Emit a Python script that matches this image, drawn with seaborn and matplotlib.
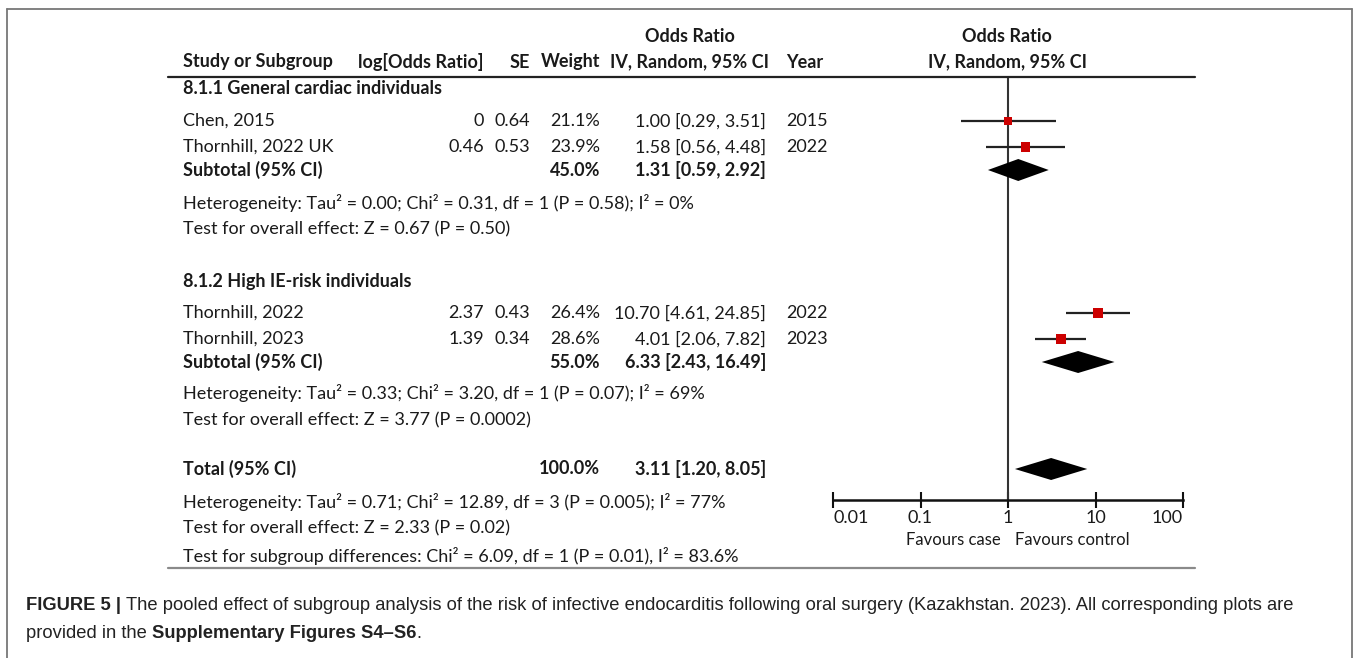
import matplotlib
matplotlib.use("Agg")
import matplotlib.pyplot as plt
from matplotlib.lines import Line2D
from matplotlib import font_manager
import numpy as np
import pandas as pd
import seaborn as sns

# ---- study-level data ----
studies = ["Chen, 2015", "Thornhill, 2022 UK", "Thornhill, 2022", "Thornhill, 2023"]
log_or = [0, 0.46, 2.37, 1.39]
se = [0.64, 0.53, 0.43, 0.34]
weight = [21.1, 23.9, 26.4, 28.6]
or_est = [1.00, 1.58, 10.70, 4.01]
ci_lo = [0.29, 0.56, 4.61, 2.06]
ci_hi = [3.51, 4.48, 24.85, 7.82]
years = [2015, 2022, 2022, 2023]

# ---- pooled estimates (two subgroups, then overall) ----
pooled_names = ["Subtotal (95% CI)", "Subtotal (95% CI)", "Total (95% CI)"]
pooled_weight = [45.0, 55.0, 100.0]
pooled_est = [1.31, 6.33, 3.11]
pooled_lo = [0.59, 2.43, 1.20]
pooled_hi = [2.92, 16.49, 8.05]

group_titles = ["8.1.1 General cardiac individuals", "8.1.2 High IE-risk individuals"]
stats_lines = [
    ["Heterogeneity: Tau\u00b2 = 0.00; Chi\u00b2 = 0.31, df = 1 (P = 0.58); I\u00b2 = 0%",
     "Test for overall effect: Z = 0.67 (P = 0.50)"],
    ["Heterogeneity: Tau\u00b2 = 0.33; Chi\u00b2 = 3.20, df = 1 (P = 0.07); I\u00b2 = 69%",
     "Test for overall effect: Z = 3.77 (P = 0.0002)"],
    ["Heterogeneity: Tau\u00b2 = 0.71; Chi\u00b2 = 12.89, df = 3 (P = 0.005); I\u00b2 = 77%",
     "Test for overall effect: Z = 2.33 (P = 0.02)",
     "Test for subgroup differences: Chi\u00b2 = 6.09, df = 1 (P = 0.01), I\u00b2 = 83.6%"],
]
tick_values = [0.01, 0.1, 1, 10, 100]
tick_labels = ["0.01", "0.1", "1", "10", "100"]
favours = ["Favours case", "Favours control"]

# ---- layout (pixel rows, measured from the top of the canvas) ----
W, H = 1355, 658
study_rows = [121, 147, 313, 339]
pooled_rows = [170, 362, 469]
title_rows = [89, 281]
stats_rows = [[203, 229], [393, 420], [502, 528, 556]]
header_line_y, axis_y = 77, 500

sns.set_theme(style="white")
names = {f.name for f in font_manager.fontManager.ttflist}
table_font = "Lato" if "Lato" in names else "DejaVu Sans"
caption_font = "Liberation Sans" if "Liberation Sans" in names else "DejaVu Sans"
plt.rcParams["font.family"] = [table_font, "DejaVu Sans"]

fig = plt.figure(figsize=(W / 100, H / 100), dpi=100)
fig.patch.set_facecolor("white")

FS = 13.0  # table font size (pt)
TXT = "#1a1a1a"


def fx(x):
    return x / W


def fy(y):
    return 1 - y / H


def put(x, y, s, ha="left", bold=False, size=FS, family=None, color=TXT):
    return fig.text(fx(x), fy(y), s, ha=ha, va="center", fontsize=size,
                    fontweight="bold" if bold else "normal",
                    family=family or [table_font, "DejaVu Sans"], color=color)


# column anchors
X_NAME, X_LOG, X_SE, X_W, X_CI, X_YEAR = 183, 484, 530, 600, 766, 786
X_CI_HEAD, X_PLOT_HEAD = 690, 1007

# headers
put(X_CI_HEAD, 37, "Odds Ratio", ha="center", bold=True)
put(X_PLOT_HEAD, 37, "Odds Ratio", ha="center", bold=True)
put(X_NAME, 62, "Study or Subgroup", bold=True)
put(X_LOG, 62, "log[Odds Ratio]", ha="right", bold=True)
put(X_SE, 62, "SE", ha="right", bold=True)
put(X_W, 62, "Weight", ha="right", bold=True)
put(X_CI_HEAD, 62, "IV, Random, 95% CI", ha="center", bold=True)
put(X_YEAR, 62, "Year", bold=True)
put(X_PLOT_HEAD, 62, "IV, Random, 95% CI", ha="center", bold=True)

fig.add_artist(Line2D([fx(168), fx(1195)], [fy(header_line_y)] * 2,
                      transform=fig.transFigure, color="#222222", lw=1.6))
fig.add_artist(Line2D([fx(168), fx(1195)], [fy(568)] * 2,
                      transform=fig.transFigure, color="#8a8a8a", lw=1.6))

# subgroup titles
for t, y in zip(group_titles, title_rows):
    put(X_NAME, y, t, bold=True)

# study rows
for i, y in enumerate(study_rows):
    put(X_NAME, y, studies[i])
    put(X_LOG, y, f"{log_or[i]:g}", ha="right")
    put(X_SE, y, f"{se[i]:.2f}", ha="right")
    put(X_W, y, f"{weight[i]:.1f}%", ha="right")
    put(X_CI, y, f"{or_est[i]:.2f} [{ci_lo[i]:.2f}, {ci_hi[i]:.2f}]", ha="right")
    put(X_YEAR, y, str(years[i]))

# pooled rows
for i, y in enumerate(pooled_rows):
    put(X_NAME, y, pooled_names[i], bold=True)
    put(X_W, y, f"{pooled_weight[i]:.1f}%", ha="right", bold=True)
    put(X_CI, y, f"{pooled_est[i]:.2f} [{pooled_lo[i]:.2f}, {pooled_hi[i]:.2f}]",
        ha="right", bold=True)

for lines, rows in zip(stats_lines, stats_rows):
    for s, y in zip(lines, rows):
        put(X_NAME, y, s)

# ---- forest plot panel ----
ax = fig.add_axes([fx(833), fy(axis_y), (1183 - 833) / W, (axis_y - header_line_y) / H])
ax.set_xscale("log")
ax.set_xlim(tick_values[0], tick_values[-1])
ax.set_ylim(axis_y, header_line_y)
ax.patch.set_alpha(0)

ax.axvline(1, color="#333333", lw=1.5, zorder=1)
ax.hlines(study_rows, ci_lo, ci_hi, color="#222222", lw=1.6, zorder=2)

df = pd.DataFrame({"or": or_est, "row": study_rows, "w": weight})
sns.scatterplot(data=df, x="or", y="row", size="w", sizes=(40, 56), marker="s",
                color="#cc0000", edgecolor="none", linewidth=0, legend=False,
                ax=ax, zorder=3)

half_h = 11
for est, lo, hi, y in zip(pooled_est, pooled_lo, pooled_hi, pooled_rows):
    ax.fill([lo, est, hi, est], [y, y - half_h, y, y + half_h],
            color="black", lw=0, zorder=3, clip_on=False)

for side in ["top", "left", "right"]:
    ax.spines[side].set_visible(False)
ax.spines["bottom"].set_color("#111111")
ax.spines["bottom"].set_linewidth(1.8)
ax.set_yticks([])
ax.set_xticks(tick_values)
ax.set_xticklabels(tick_labels)
ax.minorticks_off()
ax.tick_params(axis="x", which="major", bottom=True, direction="inout", length=11,
               width=1.5, color="#111111", pad=2, labelsize=FS, labelcolor=TXT)
labels = ax.get_xticklabels()
labels[0].set_horizontalalignment("left")
labels[-1].set_horizontalalignment("right")
ax.set_xlabel("")
ax.set_ylabel("")

put(1001, 540, favours[0], ha="right", size=12)
put(1015, 540, favours[1], ha="left", size=12)

# ---- outer frame ----
frame_c = "#777777"
fig.add_artist(Line2D([fx(7), fx(1352)], [fy(9)] * 2, transform=fig.transFigure,
                      color=frame_c, lw=1.3))
fig.add_artist(Line2D([fx(7), fx(7)], [fy(9), 0], transform=fig.transFigure,
                      color=frame_c, lw=1.3))
fig.add_artist(Line2D([fx(1352), fx(1352)], [fy(9), 0], transform=fig.transFigure,
                      color=frame_c, lw=1.3))

# ---- caption with a bold lead-in ----
CAP = 13.2
renderer = fig.canvas.get_renderer()


def run_line(x, y, parts):
    for s, bold in parts:
        t = put(x, y, s, bold=bold, size=CAP, family=[caption_font, "DejaVu Sans"],
                color="#222222")
        bb = t.get_window_extent(renderer=renderer)
        x += bb.width


run_line(26, 606, [("FIGURE 5 | ", True),
                   ("The pooled effect of subgroup analysis of the risk of infective "
                    "endocarditis following oral surgery (Kazakhstan. 2023). All "
                    "corresponding plots are", False)])
run_line(26, 633, [("provided in the ", False), ("Supplementary Figures S4\u2013S6", True),
                   (".", False)])

fig.savefig("out.png", dpi=100, facecolor="white")
